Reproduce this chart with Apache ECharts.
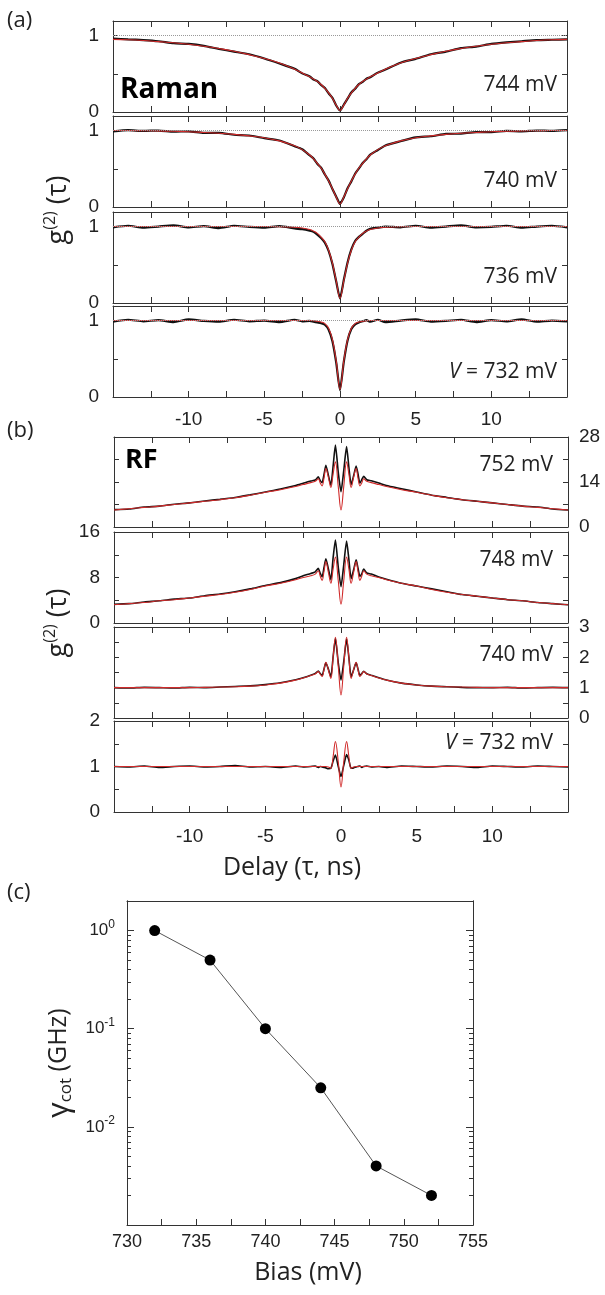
<!DOCTYPE html>
<html>
<head>
<meta charset="utf-8">
<script src="https://cdn.jsdelivr.net/npm/echarts@6/dist/echarts.min.js"></script>
<style>
  html, body { margin: 0; padding: 0; background: #fff; }
  #chart { width: 605px; height: 1295px; }
</style>
</head>
<body>
<div id="chart"></div>
<script>
// ---- (a) Raman regime: delay grid, fits (red) and measured g2 (black)
var tauA = [-15,-14,-13,-12,-11,-10,-9,-8,-7,-6,-5,-4,-3,-2.5,-2,-1.75,-1.5,-1.25,-1,-0.75,-0.5,-0.25,0,
            0.25,0.5,0.75,1,1.25,1.5,1.75,2,2.5,3,4,5,6,7,8,9,10,11,12,13,14,15];

var fitA744 = [0.95,0.945,0.935,0.92,0.905,0.885,0.86,0.83,0.795,0.75,0.70,0.64,0.56,0.51,0.46,0.43,0.40,0.36,0.31,0.25,0.18,0.09,0.02,
               0.09,0.18,0.25,0.31,0.36,0.40,0.43,0.46,0.51,0.56,0.64,0.70,0.75,0.795,0.83,0.86,0.885,0.905,0.92,0.935,0.945,0.95];
var dataA744 = [0.96,0.95,0.94,0.925,0.90,0.89,0.865,0.825,0.79,0.755,0.70,0.635,0.565,0.505,0.465,0.425,0.405,0.355,0.315,0.245,0.185,0.085,0.02,
                0.095,0.175,0.255,0.305,0.365,0.395,0.435,0.455,0.515,0.555,0.645,0.695,0.755,0.79,0.835,0.855,0.89,0.91,0.925,0.94,0.945,0.95];

var fitA740 = [1.0,1.0,0.998,0.995,0.99,0.985,0.975,0.965,0.95,0.93,0.905,0.865,0.80,0.75,0.68,0.63,0.57,0.51,0.43,0.34,0.24,0.13,0.04,
               0.13,0.24,0.34,0.43,0.51,0.57,0.63,0.68,0.75,0.80,0.865,0.905,0.93,0.95,0.965,0.975,0.985,0.99,0.995,0.998,1.0,1.0];
var dataA740 = [0.99,1.005,0.995,1.0,0.985,0.99,0.97,0.97,0.945,0.935,0.90,0.87,0.795,0.755,0.675,0.635,0.565,0.515,0.425,0.345,0.235,0.135,0.04,
                0.125,0.245,0.335,0.435,0.505,0.575,0.625,0.685,0.745,0.805,0.86,0.91,0.925,0.955,0.96,0.98,0.98,0.995,0.99,1.0,0.995,1.005];

var fitA736 = [1,1,1,1,1,1,1,1,1,1,1,0.998,0.99,0.98,0.96,0.94,0.91,0.86,0.80,0.69,0.52,0.29,0.06,
               0.29,0.52,0.69,0.80,0.86,0.91,0.94,0.96,0.98,0.99,0.998,1,1,1,1,1,1,1,1,1,1,1];
var dataA736 = [0.99,1.01,0.985,1.0,1.015,0.99,1.005,0.98,1.01,0.995,0.985,1.005,0.975,0.965,0.945,0.93,0.895,0.85,0.79,0.68,0.51,0.28,0.06,
                0.3,0.53,0.7,0.81,0.865,0.905,0.945,0.97,0.985,1.0,0.99,1.01,0.985,1.0,1.015,0.99,0.995,1.01,0.985,1.0,1.01,0.99];

var fitA732 = [1,1,1,1,1,1,1,1,1,1,1,1,1,1,1,0.998,0.99,0.98,0.96,0.90,0.75,0.47,0.10,
               0.47,0.75,0.90,0.96,0.98,0.99,0.998,1,1,1,1,1,1,1,1,1,1,1,1,1,1,1];
var dataA732 = [0.985,1.01,0.99,1.005,0.98,1.015,0.995,0.985,1.01,0.99,1.0,0.98,1.01,0.99,0.995,0.985,0.975,0.965,0.945,0.88,0.73,0.45,0.09,
                0.46,0.74,0.89,0.95,0.975,0.99,1.005,0.985,1.01,0.98,1.0,1.015,0.985,0.995,1.01,0.98,1.005,0.99,1.015,0.985,1.0,0.99];

// ---- (b) RF regime
var tauB = [-15,-14,-13,-12,-11,-10,-9,-8,-7,-6,-5,-4,-3,-2.5,-2,-1.7,-1.5,-1.38,-1.25,-1.12,-1,-0.84,-0.67,-0.52,-0.37,-0.18,0,
            0.18,0.37,0.52,0.67,0.84,1,1.12,1.25,1.38,1.5,1.7,2,2.5,3,4,5,6,7,8,9,10,11,12,13,14,15];

var fitB752 = [5.3,5.7,6.1,6.5,7.0,7.5,8.0,8.5,9.1,9.9,10.8,11.6,12.6,13.2,13.8,14.2,15.0,13.8,12.8,15.3,18.2,15.6,12.3,16.5,20.3,12.5,5.3,
               12.5,20.3,16.5,12.3,15.6,18.2,15.3,12.8,13.8,15.0,14.2,13.8,13.2,12.6,11.6,10.8,9.9,9.1,8.5,8.0,7.5,7.0,6.5,6.1,5.7,5.3];
var dataB752 = [5.4,5.6,6.2,6.5,7.1,7.5,8.1,8.6,9.2,10.0,10.9,11.8,12.9,13.6,14.3,14.6,15.6,14.5,13.8,16.4,19.2,16.2,13.0,19.0,25.5,17.0,11.0,
                17.5,25.0,18.6,13.2,16.0,19.0,16.6,13.6,14.8,15.8,14.7,14.4,13.7,12.9,11.9,10.9,9.9,9.2,8.5,8.0,7.5,7.0,6.5,6.2,5.6,5.3];

var fitB748 = [3.2,3.4,3.6,3.9,4.1,4.4,4.7,5.0,5.4,5.9,6.5,7.0,7.6,8.0,8.3,8.6,9.2,8.3,7.5,9.1,10.8,9.0,7.0,9.5,11.6,7.4,3.3,
               7.4,11.6,9.5,7.0,9.0,10.8,9.1,7.5,8.3,9.2,8.6,8.3,8.0,7.6,7.0,6.5,5.9,5.4,5.0,4.7,4.4,4.1,3.9,3.6,3.4,3.2];
var dataB748 = [3.3,3.4,3.7,3.9,4.2,4.4,4.8,5.1,5.5,6.0,6.6,7.1,7.8,8.3,8.7,9.0,9.6,8.8,8.1,9.8,11.3,9.6,7.6,11.5,14.6,9.8,6.4,
                10.2,14.4,11.2,7.8,9.4,11.1,9.7,8.2,8.7,9.5,8.8,8.6,8.1,7.7,7.0,6.5,6.0,5.5,5.0,4.7,4.4,4.1,3.9,3.6,3.4,3.2];

var fitB740 = [1.0,1.0,1.0,1.0,1.0,1.0,1.01,1.02,1.03,1.05,1.09,1.15,1.25,1.32,1.4,1.45,1.53,1.45,1.37,1.6,1.84,1.6,1.3,2.0,2.66,1.7,0.76,
               1.7,2.66,2.0,1.3,1.6,1.84,1.6,1.37,1.45,1.53,1.45,1.4,1.32,1.25,1.15,1.09,1.05,1.03,1.02,1.01,1.0,1.0,1.0,1.0,1.0,1.0];
var dataB740 = [1.0,0.99,1.01,1.0,0.99,1.01,1.0,1.02,1.04,1.06,1.1,1.16,1.26,1.33,1.41,1.47,1.55,1.47,1.40,1.62,1.82,1.62,1.36,2.02,2.62,1.82,1.25,
                1.85,2.6,2.0,1.36,1.6,1.82,1.62,1.4,1.47,1.54,1.46,1.41,1.33,1.25,1.15,1.09,1.05,1.03,1.01,1.0,1.0,1.01,0.99,1.0,1.01,1.0];

var fitB732 = [1,1,1,1,1,1,1,1,1,1,1,1,1,1,1,1,1,1,1,1,1,0.99,0.96,1.22,1.55,1.1,0.55,
               1.1,1.55,1.22,0.96,0.99,1,1,1,1,1,1,1,1,1,1,1,1,1,1,1,1,1,1,1,1,1];
var dataB732 = [1.0,0.99,1.01,0.98,1.0,1.01,0.99,1.0,1.02,0.99,1.0,0.98,1.01,0.99,1.0,1.01,0.98,1.0,0.99,0.98,0.97,0.95,0.96,1.12,1.25,1.0,0.78,
                1.02,1.26,1.14,0.96,0.97,0.99,1.0,1.01,0.98,1.0,1.01,0.99,1.0,0.98,1.01,1.0,0.99,1.01,1.0,0.98,1.01,1.0,0.99,1.01,1.0,0.99];

// ---- (c) coherence rate vs bias
var bias = [732, 736, 740, 744, 748, 752];
var gammaCot = [1.0, 0.5, 0.1, 0.025, 0.004, 0.002];

// tick positions and labelled ticks
var delayTicks = [-12.5,-10,-7.5,-5,-2.5,0,2.5,5,7.5,10,12.5];
var delayLabels = [-10, -5, 0, 5, 10];
var biasTicks = [732.5,735,737.5,740,742.5,745,747.5,750,752.5];
var biasLabels = [730, 735, 740, 745, 750, 755];
var decadeTicks = [0.01, 0.1, 1];
var minorLogTicks = [0.002,0.003,0.004,0.005,0.006,0.007,0.008,0.009,
                     0.02,0.03,0.04,0.05,0.06,0.07,0.08,0.09,
                     0.2,0.3,0.4,0.5,0.6,0.7,0.8,0.9];

var frame = '#333';
var red = '#d02a2a';
var ink = '#111';
var tickFont = '"Liberation Sans", Arial, sans-serif';
var noteFont = '"Open Sans", sans-serif';

var panels = [
  {top: 21,  left: 113, h: 91, tau: tauA, fit: fitA744, data: dataA744, max: 1.19, ticks: [0.5, 1], side: 'left', show: [0, 1], ref: true},
  {top: 116, left: 113, h: 91, tau: tauA, fit: fitA740, data: dataA740, max: 1.19, ticks: [0.5, 1], side: 'left', show: [0, 1], ref: true},
  {top: 212, left: 113, h: 91, tau: tauA, fit: fitA736, data: dataA736, max: 1.19, ticks: [0.5, 1], side: 'left', show: [0, 1], ref: true},
  {top: 306, left: 113, h: 91, tau: tauA, fit: fitA732, data: dataA732, max: 1.19, ticks: [0.5, 1], side: 'left', show: [0, 1], ref: true, xLabels: 13},
  {top: 437, left: 114, h: 90, tau: tauB, fit: fitB752, data: dataB752, max: 28, ticks: [7, 14, 21], side: 'right', show: [0, 14, 28]},
  {top: 532, left: 114, h: 91, tau: tauB, fit: fitB748, data: dataB748, max: 16, ticks: [4, 8, 12], side: 'left', show: [0, 8, 16]},
  {top: 627, left: 114, h: 91, tau: tauB, fit: fitB740, data: dataB740, max: 3, ticks: [0.5, 1, 1.5, 2, 2.5], side: 'right', show: [0, 1, 2, 3]},
  {top: 721, left: 114, h: 91, tau: tauB, fit: fitB732, data: dataB732, max: 2, ticks: [0.5, 1, 1.5], side: 'left', show: [0, 1, 2], xLabels: 15}
];

function pairs(xs, ys) {
  return xs.map(function (x, k) { return [x, ys[k]]; });
}

function axisLine() {
  return {show: true, onZero: false, lineStyle: {color: frame, width: 1}};
}
function ticks(values, len) {
  return {show: true, inside: true, length: len, customValues: values, lineStyle: {color: frame, width: 1}};
}

var grids = [], xAxes = [], yAxes = [], series = [];

panels.forEach(function (p, i) {
  grids.push({left: p.left, top: p.top, width: 454, height: p.h});

  ['bottom', 'top'].forEach(function (pos) {
    xAxes.push({
      type: 'value', gridIndex: i, position: pos, min: -15, max: 15,
      axisLine: axisLine(), splitLine: {show: false},
      axisTick: ticks(delayTicks, 6),
      axisLabel: {
        show: pos === 'bottom' && !!p.xLabels, margin: p.xLabels || 13, customValues: delayLabels,
        color: '#222', fontSize: 19, fontFamily: tickFont
      }
    });
  });

  ['left', 'right'].forEach(function (pos) {
    yAxes.push({
      type: 'value', gridIndex: i, position: pos, min: 0, max: p.max,
      axisLine: axisLine(), splitLine: {show: false},
      axisTick: ticks(p.ticks, 5),
      axisLabel: {
        show: pos === p.side, margin: pos === 'left' ? 14 : 11, customValues: p.show,
        color: '#222', fontSize: 19, fontFamily: tickFont
      }
    });
  });

  var dataSeries = {
    type: 'line', xAxisIndex: 2 * i, yAxisIndex: 2 * i,
    data: pairs(p.tau, p.data), showSymbol: false, smooth: 0.2,
    lineStyle: {color: ink, width: p.ref ? 2.2 : 1.6}, z: 2
  };
  if (p.ref) {
    dataSeries.markLine = {
      silent: true, symbol: 'none', label: {show: false},
      lineStyle: {color: '#999', type: 'dotted', width: 1},
      data: [{yAxis: 1}]
    };
  }
  series.push(dataSeries);
  series.push({
    type: 'line', xAxisIndex: 2 * i, yAxisIndex: 2 * i,
    data: pairs(p.tau, p.fit), showSymbol: false, smooth: 0.4,
    lineStyle: {color: red, width: 1.1}, z: 3
  });
});

// panel (c)
grids.push({left: 127, top: 901, width: 346, height: 324});
xAxes.push({
  type: 'value', gridIndex: 8, position: 'bottom', min: 730, max: 755,
  axisLine: axisLine(), splitLine: {show: false},
  axisTick: ticks(biasTicks, 6),
  axisLabel: {margin: 8, customValues: biasLabels, color: '#222', fontSize: 18, fontFamily: tickFont},
  name: 'Bias (mV)', nameLocation: 'middle', nameGap: 35,
  nameTextStyle: {fontSize: 25, fontFamily: noteFont, color: '#222', padding: [0, 0, 0, 16]}
});
xAxes.push({
  type: 'value', gridIndex: 8, position: 'top', min: 730, max: 755,
  axisLine: axisLine(), splitLine: {show: false}, axisTick: {show: false}, axisLabel: {show: false}
});
// four log axes: decade ticks (with labels on the left) and shorter minor ticks, on both sides
[['left', decadeTicks, 7, true], ['right', decadeTicks, 7, false],
 ['left', minorLogTicks, 4, false], ['right', minorLogTicks, 4, false]].forEach(function (a, k) {
  yAxes.push({
    type: 'log', logBase: 10, gridIndex: 8, position: a[0], min: 0.001, max: 2,
    axisLine: axisLine(), splitLine: {show: false},
    axisTick: ticks(a[1], a[2]),
    axisLabel: {
      show: a[3], margin: 12, color: '#222', fontSize: 17, fontFamily: tickFont,
      formatter: function (v) {
        var l = Math.log(v) / Math.LN10, e = Math.round(l);
        if (Math.abs(l - e) > 1e-6 || e < -2 || e > 0) return '';
        return '10{s|' + e + '}';
      },
      rich: {s: {fontSize: 12, fontFamily: tickFont, color: '#222', padding: [0, 0, 12, 0]}}
    },
    name: k === 0 ? '{g|γ}{s|cot}{n| (GHz)}' : '',
    nameLocation: 'middle', nameRotate: 90, nameGap: 48,
    nameTextStyle: {
      rich: {
        g: {fontSize: 30, fontFamily: noteFont, color: '#222'},
        s: {fontSize: 17, fontFamily: noteFont, color: '#222', padding: [14, 0, 0, 0]},
        n: {fontSize: 25, fontFamily: noteFont, color: '#222'}
      }
    }
  });
});
series.push({
  type: 'line', xAxisIndex: 16, yAxisIndex: 16,
  data: pairs(bias, gammaCot),
  symbol: 'circle', symbolSize: 11,
  itemStyle: {color: '#000'}, lineStyle: {color: '#555', width: 1}
});

function note(x, y, text, extra) {
  var style = {text: text, fontSize: 21, fontFamily: noteFont, fill: '#222', align: 'right', verticalAlign: 'middle',
               rich: {i: {fontSize: 21, fontFamily: noteFont, fontStyle: 'italic', fill: '#222'}}};
  for (var k in extra) style[k] = extra[k];
  return {type: 'text', x: x, y: y, style: style, z: 10};
}

var gRich = {
  g: {fontSize: 27, fontFamily: noteFont, fill: '#222'},
  s: {fontSize: 16, fontFamily: noteFont, fill: '#222', padding: [0, 0, 16, 0]}
};

var graphic = [
  note(7, 21, '(a)', {align: 'left', fontSize: 22}),
  note(7, 431, '(b)', {align: 'left', fontSize: 22}),
  note(7, 893, '(c)', {align: 'left', fontSize: 22}),
  note(120, 90, 'Raman', {align: 'left', fontSize: 28, fontWeight: 'bold', fill: '#000'}),
  note(125, 460, 'RF', {align: 'left', fontSize: 27, fontWeight: 'bold', fill: '#000'}),
  note(557, 85, '744 mV'),
  note(557, 181, '740 mV'),
  note(557, 277, '736 mV'),
  note(557, 372, '{i|V} = 732 mV'),
  note(553, 465, '752 mV'),
  note(553, 560, '748 mV'),
  note(553, 655, '740 mV'),
  note(553, 743, '{i|V} = 732 mV'),
  note(292, 868, 'Delay (τ, ns)', {align: 'center', fontSize: 25}),
  {type: 'text', x: 58, y: 210, rotation: Math.PI / 2,
   style: {text: '{g|g}{s|(2)}{g| (τ)}', rich: gRich, align: 'center', verticalAlign: 'middle'}},
  {type: 'text', x: 58, y: 623, rotation: Math.PI / 2,
   style: {text: '{g|g}{s|(2)}{g| (τ)}', rich: gRich, align: 'center', verticalAlign: 'middle'}}
];

var chart = echarts.init(document.getElementById('chart'));
chart.setOption({
  animation: false,
  backgroundColor: '#fff',
  grid: grids,
  xAxis: xAxes,
  yAxis: yAxes,
  series: series,
  graphic: graphic
});
</script>
</body>
</html>
